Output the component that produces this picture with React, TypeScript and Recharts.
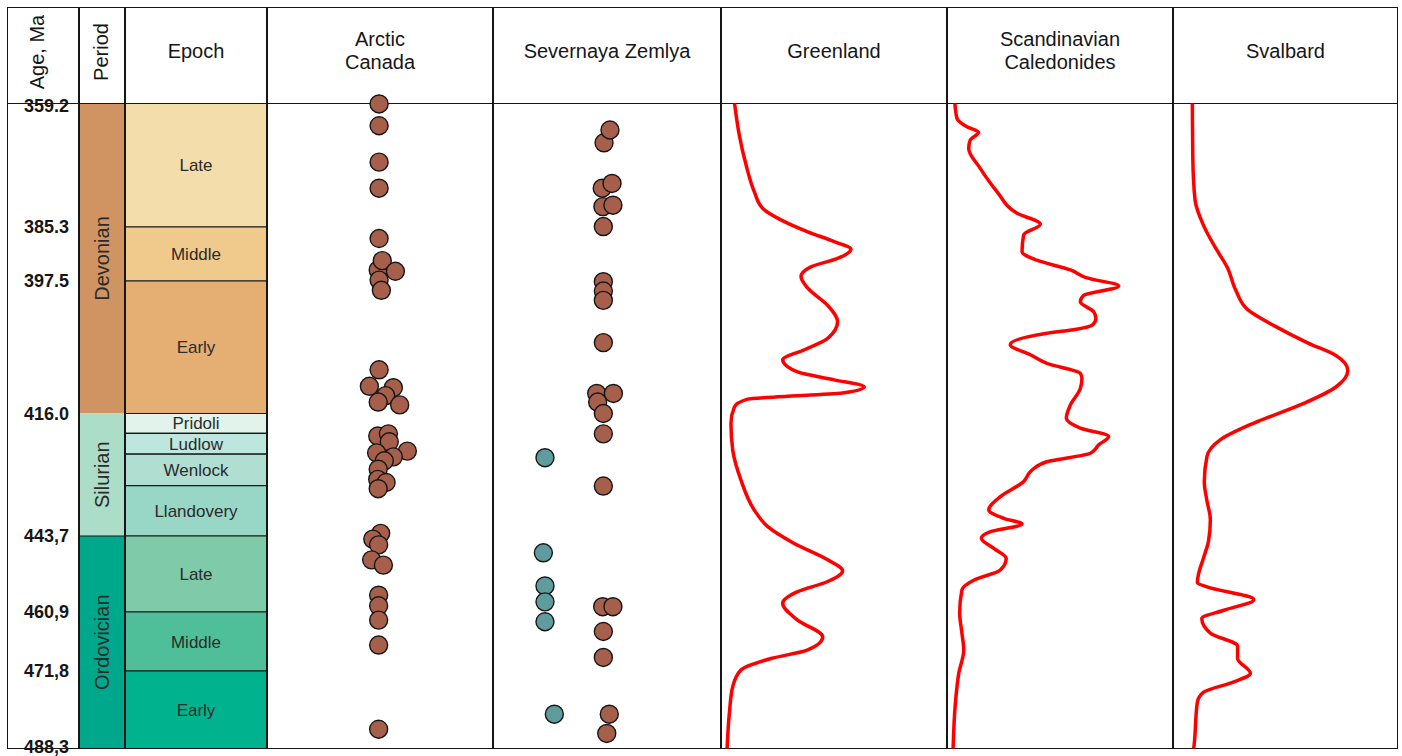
import React from 'react';
import { ComposedChart, Scatter, Line, XAxis, YAxis, ReferenceArea, ReferenceLine } from 'recharts';

// Age axis (Ma): stage boundaries and how they are printed
const AGE_TICKS = [359.2, 385.3, 397.5, 416.0, 443.7, 460.9, 471.8, 488.3];
const AGE_TICK_LABELS = ['359.2', '385.3', '397.5', '416.0', '443,7', '460,9', '471,8', '488,3'];

const PERIOD_NAMES = ['Devonian', 'Silurian', 'Ordovician'];
const PERIOD_SPANS = [[359.2, 416.0], [416.0, 443.7], [443.7, 488.3]];

const EPOCH_NAMES = ['Late', 'Middle', 'Early', 'Pridoli', 'Ludlow', 'Wenlock', 'Llandovery', 'Late', 'Middle', 'Early'];
const EPOCH_SPANS = [
  [359.2, 385.3], [385.3, 397.5], [397.5, 416.0],
  [416.0, 420.5], [420.5, 425.2], [425.2, 432.3], [432.3, 443.7],
  [443.7, 460.9], [460.9, 471.8], [471.8, 488.3],
];

const COLUMN_TITLES = ['Age, Ma', 'Period', 'Epoch', 'Arctic\nCanada', 'Severnaya Zemlya', 'Greenland', 'Scandinavian\nCaledonides', 'Svalbard'];

// sample ages: [horizontal spread in the column (%), age Ma]
const ARCTIC_CANADA = [
  [49.6, 359.3], [49.6, 363.9], [49.6, 371.6], [49.6, 377.1], [49.6, 387.9], [49.2, 395.0], [51.0, 392.9],
  [56.8, 395.3], [49.6, 397.3], [50.6, 398.8], [49.6, 409.9], [45.3, 412.2], [55.9, 412.4], [52.5, 413.5],
  [49.2, 414.4], [58.7, 414.8], [49.0, 421.1], [53.7, 420.6], [54.1, 422.4], [48.5, 424.9], [62.1, 424.5],
  [55.9, 425.8], [51.9, 426.7], [49.2, 428.6], [49.0, 430.9], [52.7, 431.6], [49.2, 433.0], [50.3, 443.1],
  [46.8, 444.4], [49.4, 445.7], [46.3, 449.1], [51.5, 450.3], [49.4, 457.1], [49.4, 459.5], [49.4, 462.4],
  [49.4, 467.0], [49.4, 484.2],
];
const SEVERNAYA_ZEMLYA = [
  [48.7, 367.5], [51.3, 364.8], [47.9, 377.1], [52.2, 376.1], [48.2, 381.0], [52.6, 380.7], [48.4, 385.2],
  [48.4, 397.6], [48.4, 398.9], [48.4, 400.2], [48.4, 406.1], [45.5, 413.2], [52.8, 413.2], [45.9, 414.4],
  [48.4, 416.0], [48.4, 420.6], [48.4, 432.4], [48.1, 459.7], [52.6, 459.7], [48.4, 464.5], [48.4, 469.3],
  [51.0, 481.0], [49.9, 485.1],
];
const SEVERNAYA_ZEMLYA_2 = [[22.8, 426.0], [22.1, 447.5], [22.8, 455.0], [22.8, 458.6], [22.8, 462.7], [26.9, 481.0]];

// age probability curves: [age Ma, relative density (%)]
const GREENLAND = [
  [359.2, 6.0], [365.9, 8.1], [372.2, 11.1], [377.8, 14.7], [381.4, 18.5], [383.8, 26.5], [386.4, 38.4],
  [388.6, 50.1], [390.3, 57.5], [392.4, 51.6], [394.3, 39.8], [396.5, 35.4], [398.5, 38.4], [400.9, 47.2],
  [403.2, 51.6], [405.5, 47.2], [407.1, 36.9], [408.5, 27.3], [410.2, 33.9], [411.3, 50.1], [412.3, 63.4],
  [413.1, 54.6], [413.6, 29.5], [414.0, 11.8], [415.1, 5.9], [418.2, 4.4], [424.3, 5.2], [431.0, 8.8],
  [437.8, 14.7], [441.6, 20.7], [445.4, 32.4], [449.1, 47.2], [451.6, 53.8], [454.0, 47.2], [456.3, 33.9],
  [458.9, 27.3], [462.4, 33.9], [465.5, 45.0], [467.9, 38.4], [469.5, 22.1], [471.6, 8.8], [475.1, 5.2],
  [480.8, 3.7], [488.3, 2.7],
];
const SCANDINAVIAN_CALEDONIDES = [
  [359.2, 3.5], [362.3, 4.4], [364.1, 8.8], [365.3, 14.0], [366.9, 10.3], [368.7, 9.6], [372.9, 14.7],
  [377.8, 22.1], [382.4, 31.0], [384.7, 41.3], [387.1, 33.9], [390.9, 33.2], [392.8, 39.8], [395.0, 54.6],
  [396.8, 61.9], [398.2, 76.0], [399.5, 60.5], [400.4, 59.0], [401.8, 64.9], [402.7, 65.9], [403.6, 64.5],
  [404.3, 56.0], [404.8, 44.2], [406.4, 28.0], [407.8, 36.9], [409.0, 44.2], [410.4, 59.0], [411.1, 59.7],
  [412.5, 59.0], [414.8, 54.6], [417.1, 52.8], [419.3, 59.0], [421.2, 71.5], [423.1, 67.1], [425.0, 63.4],
  [426.9, 44.2], [428.8, 37.6], [431.4, 33.9], [434.8, 23.6], [437.8, 18.5], [439.7, 25.1], [441.0, 33.2],
  [442.7, 19.2], [444.2, 15.2], [446.5, 20.7], [448.8, 26.2], [451.4, 23.6], [453.7, 11.8], [455.9, 6.6],
  [461.1, 5.6], [464.8, 6.6], [467.9, 7.4], [472.3, 5.2], [478.7, 3.7], [488.3, 2.7],
];
const SVALBARD = [
  [359.2, 8.6], [370.7, 8.8], [379.6, 9.8], [385.0, 13.6], [390.6, 19.6], [394.4, 24.1], [398.8, 27.9],
  [401.5, 33.2], [403.8, 45.3], [406.2, 60.3], [407.9, 72.4], [410.0, 77.7], [412.3, 72.4], [414.7, 57.3],
  [418.1, 36.2], [421.9, 21.1], [425.7, 15.1], [431.5, 13.9], [435.5, 15.0], [440.0, 16.6], [444.8, 15.8],
  [448.6, 13.6], [452.4, 11.3], [454.3, 10.8], [455.2, 15.1], [458.1, 35.9], [460.5, 22.6], [462.1, 12.8],
  [464.8, 16.6], [467.2, 28.7], [469.5, 28.7], [472.3, 34.4], [474.1, 27.1], [476.3, 13.6], [478.5, 10.8],
  [487.5, 9.4], [488.3, 9.2],
];

// styles
const FONT = '"Liberation Sans", Arial, Helvetica, sans-serif';
const INK = '#161616';
const RED = '#ff0000';
const BROWN = '#a65f4a';
const TEAL = '#5f9c9d';
const PERIOD_COLORS = ['#cf9462', '#abddc8', '#00a88b'];
const EPOCH_COLORS = ['#f3ddab', '#f0ca8c', '#e5ae72', '#e1f3ea', '#bde6de', '#b0ded0', '#98d6c6', '#7fcaa8', '#4ebf98', '#00b38e'];

// layout
const FRAME_TOP = 7;
const HEADER_H = 96.5;
const PLOT_H = 645;
const CHART_H = HEADER_H + PLOT_H;
const EDGES = [7, 79, 125, 267, 493, 721, 947, 1173, 1398];
// the column is not drawn to a uniform time scale: drawn thickness of each stage interval
const INTERVAL_THICKNESS = [123.5, 54, 132.5, 122.5, 76, 59, 77.5];

// piecewise linear age scale, d3-style interface so the axes can use it
const makeStratScale = (): any => {
  const total = INTERVAL_THICKNESS.reduce((a, b) => a + b, 0);
  const cum = [0];
  INTERVAL_THICKNESS.forEach((t) => cum.push(cum[cum.length - 1] + t / total));
  let domain = [AGE_TICKS[0], AGE_TICKS[AGE_TICKS.length - 1]];
  let range = [0, 1];
  const toFrac = (age: number) => {
    let i = 0;
    while (i < AGE_TICKS.length - 2 && age > AGE_TICKS[i + 1]) i++;
    const t = (age - AGE_TICKS[i]) / (AGE_TICKS[i + 1] - AGE_TICKS[i]);
    return cum[i] + t * (cum[i + 1] - cum[i]);
  };
  const fromFrac = (f: number) => {
    let i = 0;
    while (i < cum.length - 2 && f > cum[i + 1]) i++;
    const t = (f - cum[i]) / (cum[i + 1] - cum[i]);
    return AGE_TICKS[i] + t * (AGE_TICKS[i + 1] - AGE_TICKS[i]);
  };
  const scale: any = (age: number) => range[0] + toFrac(age) * (range[1] - range[0]);
  scale.domain = (d?: number[]) => {
    if (d === undefined) return domain.slice();
    domain = d.slice();
    return scale;
  };
  scale.range = (r?: number[]) => {
    if (r === undefined) return range.slice();
    range = r.slice();
    return scale;
  };
  scale.copy = () => makeStratScale().domain(domain).range(range);
  scale.ticks = () => AGE_TICKS.slice();
  scale.invert = (px: number) => fromFrac((px - range[0]) / (range[1] - range[0]));
  return scale;
};
const stratScale = makeStratScale();

const toPoints = (rows: number[][]) => rows.map(([x, age]) => ({ x, age }));
const toCurve = (rows: number[][]) => rows.map(([age, x]) => ({ x, age }));

// fixed = no data in the chart, so the axes take their domain as given
const ageAxis = (fixed: boolean, extra: any = {}) => (
  <YAxis
    type="number"
    dataKey="age"
    domain={[AGE_TICKS[0], AGE_TICKS[AGE_TICKS.length - 1]]}
    scale={stratScale}
    allowDataOverflow={fixed}
    ticks={AGE_TICKS}
    hide
    {...extra}
  />
);
const spreadAxis = (fixed: boolean) => (
  <XAxis type="number" dataKey="x" domain={[0, 100]} allowDataOverflow={fixed} hide />
);

const dot = (fill: string) => (p: any) => (
  <circle cx={p.cx} cy={p.cy} r={9} fill={fill} stroke={INK} strokeWidth={1.4} />
);

// bold age labels; the first and last sit on the frame lines, nudged inside the page
const AgeTick = ({ x, y, payload }: any) => {
  const i = AGE_TICKS.indexOf(payload.value);
  const nudge = i === 0 ? 2 : i === AGE_TICKS.length - 1 ? -2 : 0;
  return (
    <text x={x} y={y + nudge} dy="0.355em" textAnchor="end" fontSize={18} fontWeight={700} fill={INK} fontFamily={FONT}>
      {AGE_TICK_LABELS[i]}
    </text>
  );
};

const colLeft = (i: number) => EDGES[i];
const colWidth = (i: number) => EDGES[i + 1] - EDGES[i];

const Column = ({ i, height = CHART_H, children }: any) => (
  <div style={{ position: 'absolute', left: colLeft(i), top: FRAME_TOP, width: colWidth(i), height }}>
    {children}
  </div>
);

const Title = ({ i }: { i: number }) => {
  if (i < 2) {
    const cx = i === 0 ? 37 : 101;
    return (
      <div
        style={{
          position: 'absolute', left: cx, top: 52, transform: 'translate(-50%, -50%) rotate(-90deg)',
          fontSize: 20, whiteSpace: 'nowrap', color: INK,
        }}
      >
        {COLUMN_TITLES[i]}
      </div>
    );
  }
  return (
    <div
      style={{
        position: 'absolute', left: colLeft(i), top: FRAME_TOP, width: colWidth(i), height: 88,
        display: 'flex', alignItems: 'center', justifyContent: 'center', textAlign: 'center',
        fontSize: 20, lineHeight: '23px', whiteSpace: 'pre-line', color: INK,
      }}
    >
      {COLUMN_TITLES[i]}
    </div>
  );
};

const chartMargin = { top: HEADER_H, right: 0, bottom: 0, left: 0 };

const DotColumn = ({ i, series }: { i: number; series: { rows: number[][]; fill: string }[] }) => (
  <Column i={i}>
    <ComposedChart layout="vertical" width={colWidth(i)} height={CHART_H} margin={chartMargin}>
      {spreadAxis(false)}
      {ageAxis(false)}
      {series.map((s, k) => (
        <Scatter key={k} data={toPoints(s.rows)} shape={dot(s.fill)} isAnimationActive={false} />
      ))}
    </ComposedChart>
  </Column>
);

const CurveColumn = ({ i, rows }: { i: number; rows: number[][] }) => (
  <Column i={i}>
    <ComposedChart layout="vertical" width={colWidth(i)} height={CHART_H} margin={chartMargin} data={toCurve(rows)}>
      {spreadAxis(false)}
      {ageAxis(false)}
      <Line dataKey="x" type="monotoneY" stroke={RED} strokeWidth={3.5} dot={false} isAnimationActive={false} />
    </ComposedChart>
  </Column>
);

export default function App() {
  const frameW = EDGES[EDGES.length - 1] - EDGES[0];
  return (
    <div style={{ position: 'absolute', left: 0, top: 0, width: 1402, height: 756, background: '#fff', fontFamily: FONT }}>
      {/* age axis */}
      <Column i={0} height={CHART_H + 8}>
        <ComposedChart layout="vertical" width={colWidth(0)} height={CHART_H + 8} margin={{ ...chartMargin, bottom: 8 }}>
          {spreadAxis(true)}
          {ageAxis(true, {
            hide: false,
            width: 62,
            orientation: 'left',
            axisLine: false,
            tickLine: false,
            tickSize: 0,
            tickMargin: 0,
            interval: 0,
            tick: <AgeTick />,
          })}
        </ComposedChart>
      </Column>

      {/* periods */}
      <Column i={1}>
        <ComposedChart layout="vertical" width={colWidth(1)} height={CHART_H} margin={chartMargin}>
          {spreadAxis(true)}
          {ageAxis(true)}
          {PERIOD_NAMES.map((name, k) => (
            <ReferenceArea
              key={name}
              y1={PERIOD_SPANS[k][0]}
              y2={PERIOD_SPANS[k][1]}
              fill={PERIOD_COLORS[k]}
              fillOpacity={1}
              stroke="none"
              label={{ value: name, position: 'center', angle: -90, fontSize: 20, fill: '#2b2b2b' }}
            />
          ))}
          <ReferenceLine y={PERIOD_SPANS[2][0]} stroke={INK} strokeWidth={1.2} />
        </ComposedChart>
      </Column>

      {/* epochs */}
      <Column i={2}>
        <ComposedChart layout="vertical" width={colWidth(2)} height={CHART_H} margin={chartMargin}>
          {spreadAxis(true)}
          {ageAxis(true)}
          {EPOCH_NAMES.map((name, k) => (
            <ReferenceArea
              key={k}
              y1={EPOCH_SPANS[k][0]}
              y2={EPOCH_SPANS[k][1]}
              fill={EPOCH_COLORS[k]}
              fillOpacity={1}
              stroke={INK}
              strokeWidth={1.2}
              label={{ value: name, position: 'center', fontSize: 17, fill: '#2b2b2b' }}
            />
          ))}
        </ComposedChart>
      </Column>

      {/* frame */}
      <div
        style={{
          position: 'absolute', left: EDGES[0], top: FRAME_TOP, width: frameW, height: CHART_H,
          border: `1.5px solid ${INK}`, boxSizing: 'border-box',
        }}
      />
      <div style={{ position: 'absolute', left: EDGES[0], top: FRAME_TOP + HEADER_H - 0.75, width: frameW, height: 1.5, background: INK }} />
      {EDGES.slice(1, -1).map((x) => (
        <div key={x} style={{ position: 'absolute', left: x - 0.75, top: FRAME_TOP, width: 1.5, height: CHART_H, background: INK }} />
      ))}

      {COLUMN_TITLES.map((_, i) => (
        <Title key={i} i={i} />
      ))}

      <DotColumn i={3} series={[{ rows: ARCTIC_CANADA, fill: BROWN }]} />
      <DotColumn
        i={4}
        series={[
          { rows: SEVERNAYA_ZEMLYA_2, fill: TEAL },
          { rows: SEVERNAYA_ZEMLYA, fill: BROWN },
        ]}
      />
      <CurveColumn i={5} rows={GREENLAND} />
      <CurveColumn i={6} rows={SCANDINAVIAN_CALEDONIDES} />
      <CurveColumn i={7} rows={SVALBARD} />
    </div>
  );
}
